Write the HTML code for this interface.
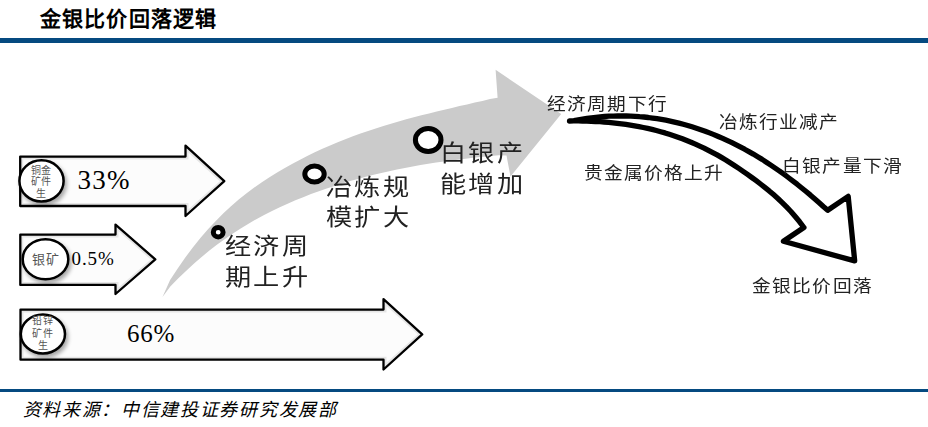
<!DOCTYPE html>
<html lang="zh-CN"><head><meta charset="utf-8">
<style>
html,body{margin:0;padding:0;background:#fff;}
body{width:928px;height:427px;position:relative;overflow:hidden;font-family:"Liberation Sans",sans-serif;color:#000;}
.t{position:absolute;white-space:nowrap;line-height:1;}
.s{color:#222;}
svg{position:absolute;left:0;top:0;}
</style></head><body>
<svg width="928" height="427" viewBox="0 0 928 427">
<rect x="0" y="38" width="928" height="5" fill="#054a80"/>
<rect x="0" y="389" width="928" height="3" fill="#054a80"/>
<path d="M162.5,297.0 L170.1,280.1 L177.7,268.4 L185.3,257.5 L193.0,247.3 L200.6,237.8 L208.2,229.0 L215.8,220.9 L223.4,213.3 L231.0,206.2 L238.7,199.6 L246.3,193.5 L253.9,187.8 L261.5,182.4 L269.1,177.4 L276.7,172.7 L284.4,168.2 L292.0,163.9 L299.6,159.9 L307.2,156.0 L314.8,152.3 L322.4,148.8 L330.1,145.4 L337.7,142.2 L345.3,139.2 L352.9,136.3 L360.5,133.5 L368.1,130.9 L375.7,128.4 L383.4,126.0 L391.0,123.7 L398.6,121.5 L406.2,119.3 L413.8,117.3 L421.4,115.3 L429.1,113.4 L436.7,111.5 L444.3,109.7 L451.9,107.9 L459.5,106.1 L467.1,104.4 L474.8,102.6 L482.4,100.9 L490.0,99.1 L497.6,97.8 L495.6,69.8 L561.2,114.0 L510.5,176.5 L506.5,155.5 L498.7,155.3 L490.9,156.0 L483.0,156.8 L475.2,157.6 L467.4,158.5 L459.6,159.4 L451.8,160.4 L444.0,161.5 L436.1,162.6 L428.3,163.8 L420.5,165.1 L412.7,166.5 L404.9,168.0 L397.0,169.5 L389.2,171.2 L381.4,173.0 L373.6,174.8 L365.8,176.8 L358.0,178.9 L350.1,181.1 L342.3,183.4 L334.5,185.9 L326.7,188.5 L318.9,191.3 L311.0,194.1 L303.2,197.2 L295.4,200.3 L287.6,203.7 L279.8,207.3 L272.0,211.0 L264.1,215.0 L256.3,219.2 L248.5,223.7 L240.7,228.5 L232.9,233.5 L225.0,238.9 L217.2,244.6 L209.4,250.6 L201.6,257.0 L193.8,263.8 L186.0,270.9 L178.1,278.5 L170.3,286.5 L162.5,297.0 Z" fill="#cbcbcb"/>
<defs>
<clipPath id="ac0"><path d="M20.2,156.6 H185.5 V145.7 L224.3,181.2 L185.5,216 V206 H20.2 Z"/></clipPath>
<clipPath id="ac1"><path d="M20.3,234.6 H115.5 V224.6 L155.3,259.4 L115.5,294 V284.9 H20.3 Z"/></clipPath>
<clipPath id="ac2"><path d="M20.5,309.6 H383.5 V299.2 L422.2,334.4 L383.5,369.5 V359.7 H20.5 Z"/></clipPath>
<filter id="sh" x="-30%" y="-30%" width="160%" height="170%"><feGaussianBlur in="SourceAlpha" stdDeviation="2.2"/><feOffset dx="1.5" dy="3" result="b"/><feComponentTransfer><feFuncA type="linear" slope="0.35"/></feComponentTransfer><feMerge><feMergeNode/><feMergeNode in="SourceGraphic"/></feMerge></filter>
</defs>
<path d="M20.2,156.6 H185.5 V145.7 L224.3,181.2 L185.5,216 V206 H20.2 Z" fill="#fcfcfc"/>
<path d="M20.2,156.6 H185.5 V145.7 L224.3,181.2 L185.5,216 V206 H20.2 Z" fill="none" stroke="#e6e6e6" stroke-width="6" clip-path="url(#ac0)"/>
<path d="M20.2,156.6 H185.5 V145.7 L224.3,181.2 L185.5,216 V206 H20.2 Z" fill="none" stroke="#000" stroke-width="2.3" stroke-linejoin="round"/>
<path d="M20.3,234.6 H115.5 V224.6 L155.3,259.4 L115.5,294 V284.9 H20.3 Z" fill="#fcfcfc"/>
<path d="M20.3,234.6 H115.5 V224.6 L155.3,259.4 L115.5,294 V284.9 H20.3 Z" fill="none" stroke="#e6e6e6" stroke-width="6" clip-path="url(#ac1)"/>
<path d="M20.3,234.6 H115.5 V224.6 L155.3,259.4 L115.5,294 V284.9 H20.3 Z" fill="none" stroke="#000" stroke-width="2.3" stroke-linejoin="round"/>
<path d="M20.5,309.6 H383.5 V299.2 L422.2,334.4 L383.5,369.5 V359.7 H20.5 Z" fill="#fcfcfc"/>
<path d="M20.5,309.6 H383.5 V299.2 L422.2,334.4 L383.5,369.5 V359.7 H20.5 Z" fill="none" stroke="#e6e6e6" stroke-width="6" clip-path="url(#ac2)"/>
<path d="M20.5,309.6 H383.5 V299.2 L422.2,334.4 L383.5,369.5 V359.7 H20.5 Z" fill="none" stroke="#000" stroke-width="2.3" stroke-linejoin="round"/>

<g fill="#fff" stroke="#000" stroke-width="2.5" filter="url(#sh)">
<ellipse cx="41.5" cy="180.9" rx="22.1" ry="20.6"/>
<ellipse cx="45.5" cy="259.2" rx="22.8" ry="20"/>
<ellipse cx="42.9" cy="334" rx="22.1" ry="19.5"/>
</g>
<g fill="#fff" stroke="#000" stroke-width="5">
<ellipse cx="218.2" cy="232.2" rx="4.9" ry="4.7"/>
<ellipse cx="314.5" cy="174" rx="9.7" ry="8"/>
<ellipse cx="428.2" cy="140" rx="12.8" ry="11.4"/>
</g>
<path d="M569.5,121.0 L573.9,120.6 L578.3,119.8 L582.6,119.1 L587.0,118.4 L591.4,117.8 L595.8,117.3 L600.1,116.9 L604.5,116.5 L608.9,116.2 L613.3,116.1 L617.6,116.0 L622.0,115.9 L626.4,116.0 L630.8,116.1 L635.1,116.3 L639.5,116.7 L643.9,117.0 L648.3,117.5 L652.6,118.1 L657.0,118.7 L661.4,119.4 L665.8,120.2 L670.2,121.1 L674.5,122.1 L678.9,123.1 L683.3,124.3 L687.7,125.5 L692.0,126.8 L696.4,128.2 L700.8,129.7 L705.2,131.2 L709.5,132.9 L713.9,134.6 L718.3,136.5 L722.7,138.4 L727.0,140.4 L731.4,142.4 L735.8,144.6 L740.2,146.9 L744.6,149.2 L748.9,151.6 L753.3,154.1 L757.7,156.8 L762.1,159.4 L766.4,162.2 L770.8,165.1 L775.2,168.1 L779.6,171.1 L783.9,174.2 L788.3,177.5 L792.7,180.8 L797.1,184.2 L801.4,187.7 L805.8,191.3 L810.2,194.9 L814.6,198.7 L818.9,202.5 L823.3,206.5 L827.7,210.3 L848.2,196.4 L854.7,260.9 L783.4,241.3 L803.9,227.5 L799.6,221.8 L795.2,216.5 L790.9,211.5 L786.5,206.9 L782.2,202.6 L777.9,198.5 L773.5,194.6 L769.2,190.9 L764.8,187.4 L760.5,184.0 L756.2,180.7 L751.8,177.5 L747.5,174.4 L743.1,171.3 L738.8,168.4 L734.4,165.5 L730.1,162.7 L725.8,160.0 L721.4,157.4 L717.1,154.9 L712.7,152.6 L708.4,150.3 L704.1,148.1 L699.7,146.1 L695.4,144.1 L691.0,142.2 L686.7,140.5 L682.4,138.8 L678.0,137.2 L673.7,135.7 L669.3,134.3 L665.0,132.9 L660.7,131.7 L656.3,130.5 L652.0,129.4 L647.6,128.4 L643.3,127.5 L639.0,126.6 L634.6,125.8 L630.3,125.1 L625.9,124.4 L621.6,123.8 L617.2,123.3 L612.9,122.8 L608.6,122.4 L604.2,122.0 L599.9,121.7 L595.5,121.5 L591.2,121.3 L586.9,121.1 L582.5,121.0 L578.2,120.9 L573.8,120.9 L569.5,121.0 Z" fill="#fff" stroke="#000" stroke-width="5.3" stroke-linejoin="round"/>
</svg>
<div class="t" style="left:40px;top:8px;font-size:21px;font-weight:bold;letter-spacing:1.15px;">金银比价回落逻辑</div>

<div class="t s" style="left:547.3px;top:95.8px;font-size:17px;letter-spacing:1.3px;transform:scaleX(1.1);transform-origin:0 0;">经济周期下行</div>
<div class="t s" style="left:718.8px;top:114px;font-size:17px;letter-spacing:1.1px;transform:scaleX(1.1);transform-origin:0 0;">冶炼行业减产</div>
<div class="t s" style="left:584.3px;top:165.2px;font-size:17px;letter-spacing:1.2px;transform:scaleX(1.1);transform-origin:0 0;">贵金属价格上升</div>
<div class="t s" style="left:782.2px;top:157.8px;font-size:17px;letter-spacing:1.35px;transform:scaleX(1.1);transform-origin:0 0;">白银产量下滑</div>
<div class="t s" style="left:752.3px;top:278.2px;font-size:17px;letter-spacing:1.3px;transform:scaleX(1.1);transform-origin:0 0;">金银比价回落</div>

<div class="t s" style="left:224.6px;top:231.2px;font-size:23px;letter-spacing:1.8px;transform:scaleX(1.14);transform-origin:0 0;line-height:30.5px;">经济周<br>期上升</div>
<div class="t s" style="left:326px;top:173.3px;font-size:23px;letter-spacing:1.8px;transform:scaleX(1.14);transform-origin:0 0;line-height:29.5px;">冶炼规<br>模扩大</div>
<div class="t s" style="left:440px;top:137.8px;font-size:23px;letter-spacing:1.8px;transform:scaleX(1.14);transform-origin:0 0;line-height:31px;">白银产<br>能增加</div>

<div class="t" style="left:77.5px;top:167.2px;font-size:27px;letter-spacing:1.2px;font-family:'Liberation Serif',serif;">33%</div>
<div class="t" style="left:71.5px;top:248.8px;font-size:19px;letter-spacing:0.9px;font-family:'Liberation Serif',serif;">0.5%</div>
<div class="t" style="left:127px;top:320.5px;font-size:25px;letter-spacing:0.7px;font-family:'Liberation Serif',serif;">66%</div>

<div class="t" style="left:30px;top:165px;font-size:10px;line-height:11.3px;color:#555;text-align:center;width:23px;letter-spacing:0.8px;">铜金<br>矿件<br>生</div>
<div class="t" style="left:32px;top:253px;font-size:13px;color:#555;letter-spacing:1px;">银矿</div>
<div class="t" style="left:31.5px;top:315.2px;font-size:10px;line-height:12.6px;color:#555;text-align:center;width:24px;letter-spacing:1.2px;">铅锌<br>矿件<br>生</div>

<div class="t" style="left:22.5px;top:400.5px;font-size:18px;font-style:italic;letter-spacing:1.7px;">资料来源：中信建投证券研究发展部</div>
</body></html>
